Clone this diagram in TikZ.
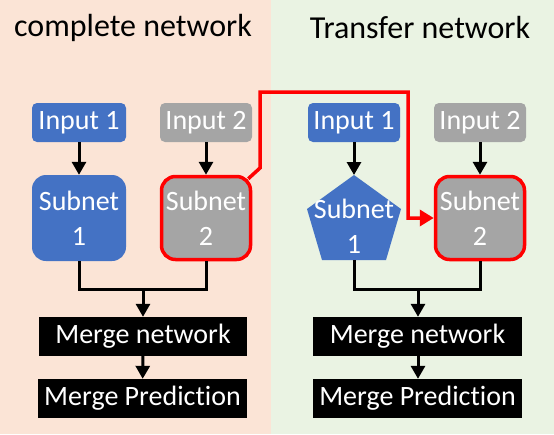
\documentclass[tikz,border=0pt]{standalone}
\usepackage{fontspec}
\setmainfont{Carlito}[Ligatures={NoCommon}]
\usetikzlibrary{arrows.meta,calc}
\definecolor{peach}{HTML}{FBE4D6}
\definecolor{mint}{HTML}{EAF3E3}
\definecolor{boxblue}{HTML}{4472C4}
\definecolor{boxgray}{HTML}{A5A5A5}
\definecolor{hired}{HTML}{FF0000}
\begin{document}
\begin{tikzpicture}[x=1pt,y=-1pt,
  txt/.style={text=white,font=\fontsize{28}{35}\selectfont,align=center,inner sep=0pt},
  inbox/.style={txt,rounded corners=5pt,minimum height=39pt},
  subbox/.style={txt,rounded corners=14pt,minimum height=86pt},
  blk/.style={txt,fill=black,minimum height=39pt},
  hilite/.style={draw=hired,line width=3.5pt},
  arr/.style={line width=3pt,-{Triangle[length=13pt,width=14pt]}},
  ln/.style={line width=3pt},
  redarr/.style={draw=hired,line width=3.5pt,-{Triangle[length=14pt,width=16pt]}},
  title/.style={font=\fontsize{32}{38}\selectfont,inner sep=0pt}]
\useasboundingbox (0,0) rectangle (554,434);
\fill[peach] (0,0) rectangle (271,434);
\fill[mint] (271,0) rectangle (554,434);

\node[title] (tL) at (133,28) {complete network};
\node[title] (tR) at (420,28) {Transfer network};

% left network
\node[inbox,fill=boxblue,minimum width=94pt] (in1L) at (79,122.5) {Input 1};
\node[inbox,fill=boxgray,minimum width=92pt] (in2L) at (206,122.5) {Input 2};
\node[subbox,fill=boxblue,minimum width=94pt] (sub1L) at (79,218) {Subnet\\1};
\node[subbox,fill=boxgray,hilite,minimum width=89pt,minimum height=83pt] (sub2L) at (206,218) {Subnet\\2};
\node[blk,minimum width=208pt] (mergeL) at (143,336.5) {Merge network};
\node[blk,minimum width=209pt] (predL) at (142.5,398.5) {Merge Predic\kern0pt tion};

% right network
\node[inbox,fill=boxblue,minimum width=92pt] (in1R) at (354,122.5) {Input 1};
\node[inbox,fill=boxgray,minimum width=92pt] (in2R) at (480,122.5) {Input 2};
\coordinate (pTop) at (354,175);
\coordinate (pRight) at (401,209);
\coordinate (pBR) at (386,260);
\coordinate (pBot) at (354,260);
\coordinate (pBL) at (322,260);
\coordinate (pLeft) at (307,209);
\fill[boxblue] (pTop) -- (pRight) -- (pBR) -- (pBL) -- (pLeft) -- cycle;
\node[txt] (sub1R) at (354,226) {Subnet\\1};
\node[subbox,fill=boxgray,hilite,minimum width=89pt,minimum height=83pt] (sub2R) at (480,218) {Subnet\\2};
\node[blk,minimum width=209pt] (mergeR) at (417.5,336.5) {Merge network};
\node[blk,minimum width=209pt] (predR) at (417.5,398.5) {Merge Predic\kern0pt tion};

% arrows left
\draw[arr] (in1L) -- (sub1L);
\draw[arr] (in2L) -- (sub2L);
\coordinate (jL) at (143,289);
\draw[ln] (sub1L.south) |- (jL) -| (sub2L.south);
\draw[arr] (jL) -- (mergeL.north);
\draw[arr] (mergeL) -- (predL);

% arrows right
\draw[arr] (in1R) -- (pTop);
\draw[arr] (in2R) -- (sub2R);
\coordinate (jR) at (418,289);
\draw[ln] (pBot) |- (jR) -| (sub2R.south);
\draw[arr] (jR) -- (jR |- mergeR.north);
\draw[arr] (jR |- mergeR.south) -- (jR |- predR.north);

% red transfer path
\coordinate (r0) at ($(sub2L.north east)+(-4,4)$);
\coordinate (r1) at (260,168);
\coordinate (r2) at (260,92);
\coordinate (r3) at (408,92);
\draw[redarr,line join=miter] (r0) -- (r1) -- (r2) -- (r3) |- (sub2R.west);
\end{tikzpicture}
\end{document}
